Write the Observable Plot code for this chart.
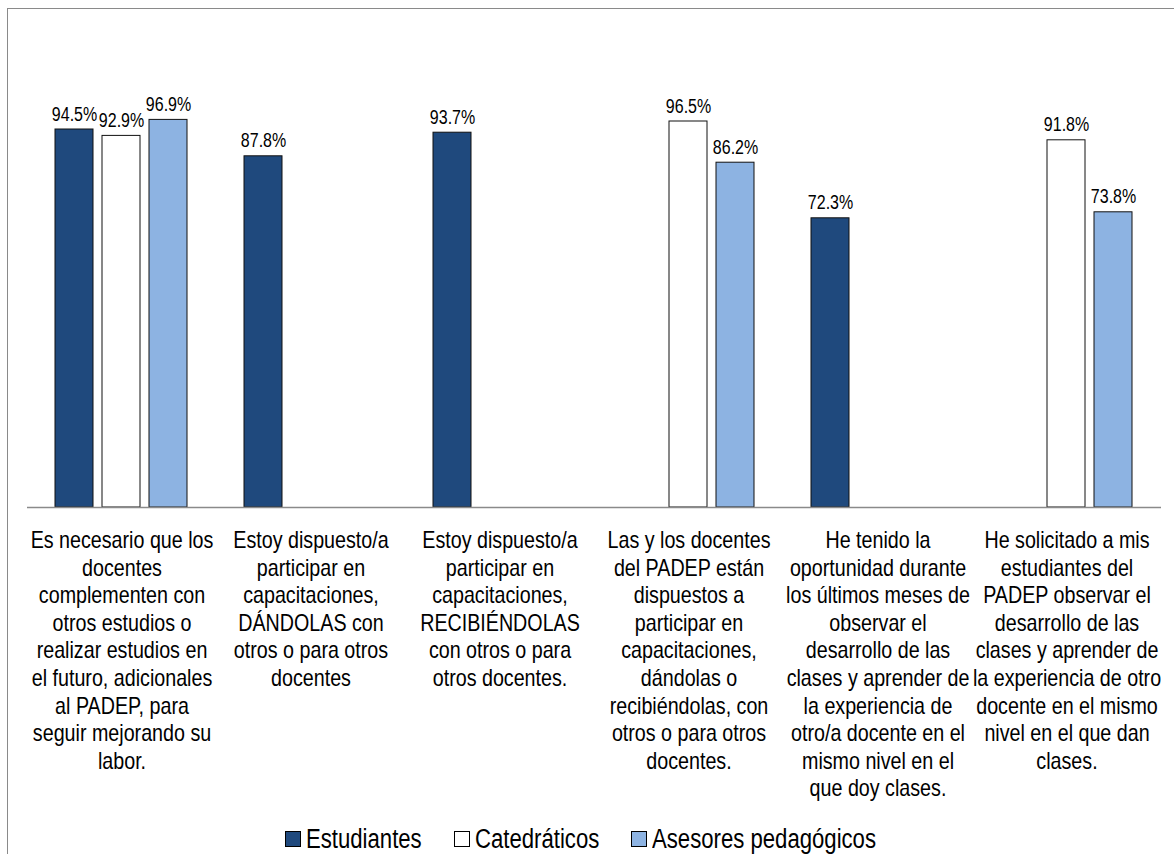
<!DOCTYPE html>
<html>
<head>
<meta charset="utf-8">
<script src="https://cdn.jsdelivr.net/npm/d3@7"></script>
<script src="https://cdn.jsdelivr.net/npm/@observablehq/plot@0.6"></script>
<style>
  html, body { margin: 0; padding: 0; background: #fff; }
  #wrap { position: relative; width: 1174px; height: 854px; overflow: hidden; }
  #frame { position: absolute; left: 7px; top: 8px; width: 1200px; height: 900px; border: 1px solid #8a8a8a; box-sizing: border-box; }
  #chart { position: absolute; left: 0; top: 0; }
  #legend { position: absolute; left: -6px; top: 826px; width: 1174px; display: flex; justify-content: center; align-items: center; color: #000; }
  .item { display: flex; align-items: center; margin: 0 16px; }
  .sw { width: 16px; height: 16px; border: 1px solid #000; box-sizing: border-box; margin-right: 5px; }
  .lbl { font-size: 27px; line-height: 26px; white-space: nowrap; display: inline-block; }
</style>
</head>
<body>
<div id="wrap">
  <div id="frame"></div>
  <div id="chart"></div>
  <div id="legend"></div>
</div>
<script>
const categories = [
  "Es necesario que los\ndocentes\ncomplementen con\notros estudios o\nrealizar estudios en\nel futuro, adicionales\nal PADEP, para\nseguir mejorando su\nlabor.",
  "Estoy dispuesto/a\nparticipar en\ncapacitaciones,\nDÁNDOLAS con\notros o para otros\ndocentes",
  "Estoy dispuesto/a\nparticipar en\ncapacitaciones,\nRECIBIÉNDOLAS\ncon otros o para\notros docentes.",
  "Las y los docentes\ndel PADEP están\ndispuestos a\nparticipar en\ncapacitaciones,\ndándolas o\nrecibiéndolas, con\notros o para otros\ndocentes.",
  "He tenido la\noportunidad durante\nlos últimos meses de\nobservar el\ndesarrollo de las\nclases y aprender de\nla experiencia de\notro/a docente en el\nmismo nivel en el\nque doy clases.",
  "He solicitado a mis\nestudiantes del\nPADEP observar el\ndesarrollo de las\nclases y aprender de\nla experiencia de otro\ndocente en el mismo\nnivel en el que dan\nclases."
];
const series = ["Estudiantes", "Catedráticos", "Asesores pedagógicos"];
const estudiantes  = [94.5, 87.8, 93.7, null, 72.3, null];
const catedraticos = [92.9, null, null, 96.5, null, 91.8];
const asesores     = [96.9, null, null, 86.2, null, 73.8];
const colors = ["#1f497d", "#ffffff", "#8db3e2"];

const seriesValues = [estudiantes, catedraticos, asesores];
const data = [];
categories.forEach((c, i) => {
  series.forEach((s, j) => {
    const v = seriesValues[j][i];
    if (v != null) data.push({cat: c, series: s, value: v});
  });
});

function hasFont(name) {
  const ctx = document.createElement("canvas").getContext("2d");
  const t = "abcdefghijklmnopqrstuvwxyz0123456789";
  ctx.font = "40px monospace";
  const a = ctx.measureText(t).width;
  ctx.font = `40px "${name}", monospace`;
  return ctx.measureText(t).width !== a;
}
const narrow = hasFont("Liberation Sans Narrow");
const FONT = narrow ? "'Liberation Sans Narrow', 'Arial Narrow', sans-serif" : "'Liberation Sans', Arial, sans-serif";
const SQUEEZE = narrow ? 1 : 0.82;

const chart = Plot.plot({
  width: 1174,
  height: 810,
  marginTop: 107,
  marginBottom: 303,
  marginLeft: 25,
  marginRight: 12,
  style: {fontFamily: FONT, color: "#000", background: "transparent", overflow: "visible"},
  fx: {domain: categories, padding: 0, axis: null},
  x: {domain: series, paddingInner: 0.19, paddingOuter: 0.59, axis: null},
  y: {domain: [0, 100], axis: null},
  color: {domain: series, range: colors},
  marks: [
    Plot.barY(data, {fx: "cat", x: "series", y: "value", fill: "series", stroke: "#111", strokeWidth: 1}),
    Plot.ruleY([0], {stroke: "#8a8a8a", strokeWidth: 1.5}),
    Plot.text(data, {fx: "cat", x: "series", y: "value", text: d => d.value.toFixed(1) + "%", lineAnchor: "bottom", dy: -9, fontSize: 19.5, fill: "#000"}),
    Plot.text(categories, {fx: d => d, text: d => d, frameAnchor: "bottom", lineAnchor: "top", dy: 21, fontSize: 24, lineHeight: 1.15, fill: "#000"})
  ]
});
document.getElementById("chart").appendChild(chart);

// Legend
const legend = document.getElementById("legend");
series.forEach((s, i) => {
  const item = document.createElement("div");
  item.className = "item";
  const sw = document.createElement("div");
  sw.className = "sw";
  sw.style.background = colors[i];
  const lbl = document.createElement("span");
  lbl.className = "lbl";
  lbl.style.fontFamily = FONT;
  lbl.textContent = s;
  item.appendChild(sw);
  item.appendChild(lbl);
  legend.appendChild(item);
});

// Horizontal squeeze fallback when a narrow face is not installed
if (SQUEEZE !== 1) {
  chart.querySelectorAll("text").forEach(t => {
    const spans = t.querySelectorAll("tspan");
    const targets = spans.length ? Array.from(spans) : [t];
    targets.forEach(el => {
      const len = el.getComputedTextLength();
      if (len > 0) {
        el.setAttribute("textLength", (len * SQUEEZE).toFixed(2));
        el.setAttribute("lengthAdjust", "spacingAndGlyphs");
      }
    });
  });
  legend.querySelectorAll(".lbl").forEach(l => {
    const w = l.getBoundingClientRect().width;
    l.style.transform = `scaleX(${SQUEEZE})`;
    l.style.transformOrigin = "left center";
    l.style.marginRight = `${-w * (1 - SQUEEZE)}px`;
  });
}
</script>
</body>
</html>
